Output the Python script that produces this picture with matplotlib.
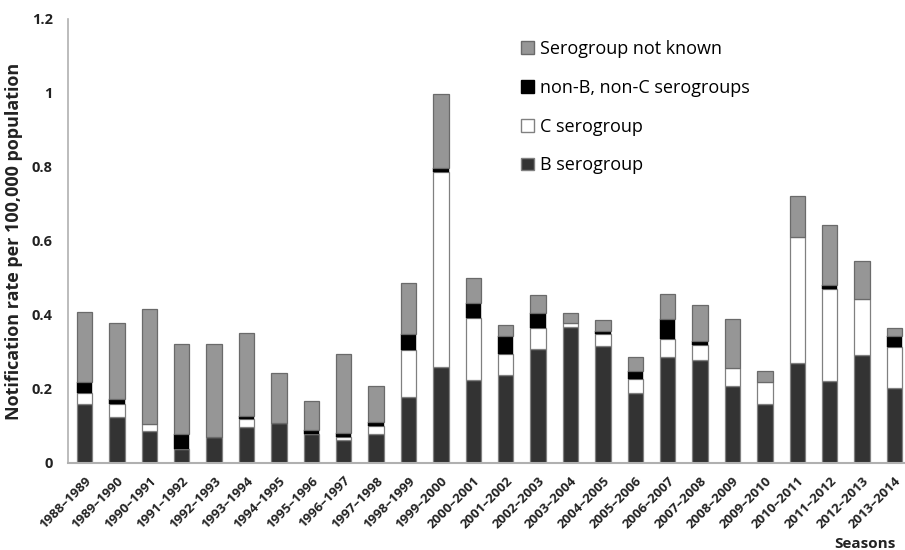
import matplotlib
matplotlib.use("Agg")
import matplotlib.pyplot as plt
from matplotlib.patches import Patch
import numpy as np

seasons = ["1988–1989", "1989–1990", "1990–1991", "1991–1992", "1992–1993", "1993–1994",
           "1994–1995", "1995–1996", "1996–1997", "1997–1998", "1998–1999", "1999–2000",
           "2000–2001", "2001–2002", "2002–2003", "2003–2004", "2004–2005", "2005–2006",
           "2006–2007", "2007–2008", "2008–2009", "2009–2010", "2010–2011", "2011–2012",
           "2012–2013", "2013–2014"]
b_sero = [0.159, 0.123, 0.087, 0.038, 0.069, 0.098, 0.109, 0.078, 0.061, 0.079, 0.179, 0.260,
          0.225, 0.238, 0.307, 0.367, 0.316, 0.190, 0.287, 0.279, 0.209, 0.160, 0.271, 0.222,
          0.293, 0.203]
c_sero = [0.029, 0.036, 0.018, 0.0, 0.0, 0.020, 0.0, 0.0, 0.008, 0.020, 0.126, 0.526,
          0.166, 0.056, 0.058, 0.011, 0.032, 0.038, 0.049, 0.039, 0.049, 0.060, 0.339, 0.249,
          0.151, 0.110]
non_bc = [0.030, 0.013, 0.0, 0.040, 0.0, 0.009, 0.0, 0.011, 0.011, 0.012, 0.043, 0.012,
          0.041, 0.050, 0.040, 0.0, 0.009, 0.022, 0.052, 0.012, 0.0, 0.0, 0.0, 0.011,
          0.0, 0.031]
unknown = [0.190, 0.206, 0.310, 0.243, 0.252, 0.225, 0.135, 0.079, 0.215, 0.097, 0.138, 0.198,
           0.069, 0.029, 0.049, 0.028, 0.029, 0.037, 0.068, 0.097, 0.130, 0.030, 0.112, 0.161,
           0.101, 0.020]
yticks = [0, 0.2, 0.4, 0.6, 0.8, 1, 1.2]
ytick_labels = ["0", "0.2", "0.4", "0.6", "0.8", "1", "1.2"]

plt.rcParams['font.family'] = ['Open Sans', 'DejaVu Sans']

fig = plt.figure(figsize=(9.05, 5.5), dpi=100)
W, H = 905, 550
ax = fig.add_axes([68 / W, (550 - 463) / H, (911 - 68) / W, (463 - 19) / H])

x = np.arange(len(seasons))
w = 0.48
edge = "#808080"
lw = 0.9
b = np.array(b_sero)
c = np.array(c_sero)
n = np.array(non_bc)
u = np.array(unknown)
ax.bar(x, b, w, color="#333333", edgecolor=edge, linewidth=lw)
ax.bar(x, c, w, bottom=b, color="white", edgecolor=edge, linewidth=lw)
ax.bar(x, n, w, bottom=b + c, color="black", edgecolor="black", linewidth=0.3)
ax.bar(x, u, w, bottom=b + c + n, color="#969696", edgecolor="#6a6a6a", linewidth=lw)

ax.set_xlim(-0.51, len(seasons) - 0.49)
ax.set_ylim(0, 1.2)
ax.set_yticks(yticks)
ax.set_yticklabels(ytick_labels, fontsize=10.5, fontweight='bold', color="#222222")
ax.set_xticks(x)
ax.set_xticklabels(seasons, rotation=45, ha='right', rotation_mode='anchor',
                   fontsize=9.5, fontweight='bold', color="#222222")
ax.tick_params(axis='y', length=0, pad=11)
ax.tick_params(axis='x', length=0, pad=8)
for s in ['top', 'right']:
    ax.spines[s].set_visible(False)
ax.spines['left'].set_color("#b0b0b0")
ax.spines['bottom'].set_color("#b0b0b0")
ax.spines['left'].set_linewidth(1.2)
ax.spines['bottom'].set_linewidth(1.5)

ax.set_ylabel("Notification rate per 100,000 population", fontsize=13, fontweight='bold',
              color="#222222", labelpad=6)
fig.text(896 / W, 1 - 544 / H, "Seasons", ha='right', va='center', fontsize=11,
         fontweight='bold', color="#222222")

handles = [Patch(facecolor="#969696", edgecolor="#6a6a6a"),
           Patch(facecolor="black", edgecolor="black"),
           Patch(facecolor="white", edgecolor="#808080"),
           Patch(facecolor="#333333", edgecolor="#808080")]
labels = ["Serogroup not known", "non-B, non-C serogroups", "C serogroup", "B serogroup"]
leg = fig.legend(handles, labels, loc='upper left', bbox_to_anchor=(512 / W, 1 - 31 / H),
                 frameon=False, fontsize=13, handlelength=0.7, handleheight=0.7,
                 handletextpad=0.35, labelspacing=1.15, borderpad=0)

fig.savefig("out.png", dpi=100)
